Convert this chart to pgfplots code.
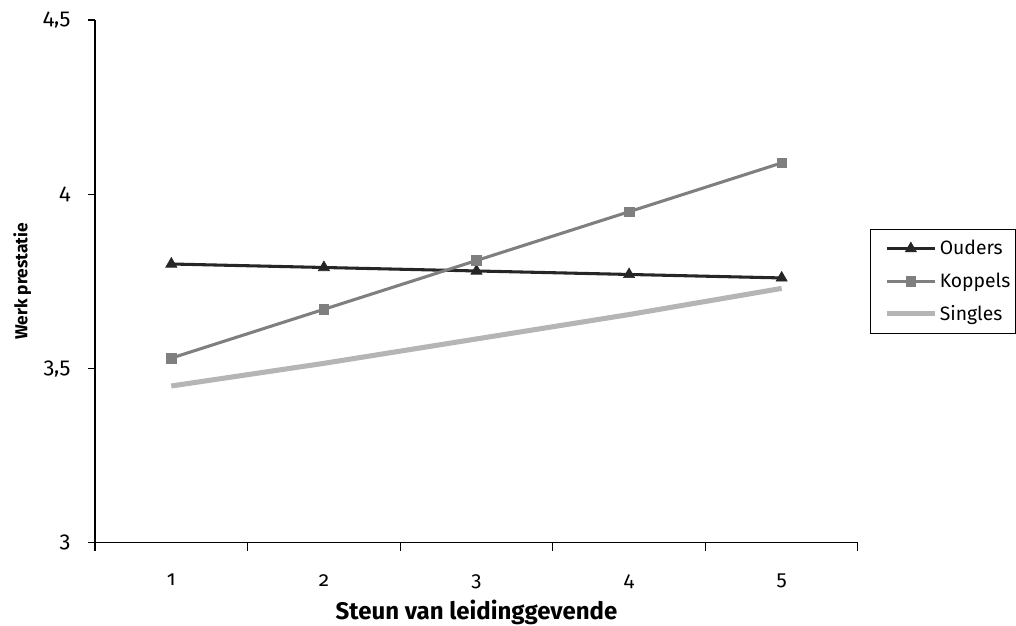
\documentclass[border=0pt]{standalone}
\usepackage{pgfplots}
\pgfplotsset{compat=1.18}
\usepackage{fontspec}
\setmainfont[Numbers=OldStyle]{Fira Sans}
\usetikzlibrary{calc}
\definecolor{cOud}{HTML}{262626}
\definecolor{cKop}{HTML}{7F7F7F}
\definecolor{cSin}{HTML}{B5B5B5}
\begin{document}
\begin{tikzpicture}[font=\fontsize{15.5}{18}\selectfont]
\begin{axis}[
  scale only axis,
  width=572pt, height=392pt,
  xmin=0.5, xmax=5.5,
  ymin=3, ymax=4.5,
  axis x line=bottom, axis y line=left,
  axis line style={-, line width=0.8pt},
  xtick={1,2,3,4,5},
  xticklabels={1,2,3,4,5},
  major x tick style={draw=none},
  minor xtick={0.5,1.5,2.5,3.5,4.5,5.5},
  minor tick length=6pt,
  minor x tick style={line width=0.8pt, black},
  ytick={3,3.5,4,4.5},
  major tick length=5pt,
  tick align=outside,
  y tick style={line width=0.8pt, black},
  /pgf/number format/use comma,
  /pgf/number format/assume math mode=true,
  yticklabel style={xshift=-10pt, font=\fontsize{16.5}{18}\selectfont},
  xticklabel style={yshift=-15pt},
  xlabel={\bfseries\fontsize{18}{20}\selectfont Steun van leidinggevende},
  ylabel={\bfseries\fontsize{13}{15}\selectfont Werk prestatie},
  xlabel style={yshift=-2pt},
  ylabel style={yshift=2pt},
  legend style={at={(1.016,0.5)}, anchor=west, draw=black, line width=0.6pt,
    font=\fontsize{14.5}{17}\selectfont, row sep=8pt, inner xsep=2pt, inner ysep=6pt,
    /tikz/every even column/.append style={column sep=1pt}},
  legend cell align=left,
  legend image code/.code={\path (0cm,0cm); \draw[#1] (0.3cm,0cm) -- (1.55cm,0cm); \draw[#1, mark repeat=2, mark phase=2] plot coordinates {(0.3cm,0cm) (0.925cm,0cm) (1.55cm,0cm)};},
]
\addplot[color=cOud, line width=2.3pt, mark=triangle*, mark size=4.8pt, mark options={line width=0.5pt}]
  coordinates {(1,3.80) (2,3.79) (3,3.78) (4,3.77) (5,3.76)};
\addlegendentry{Ouders}
\addplot[color=cKop, line width=2.3pt, mark=square*, mark size=3.6pt, mark options={line width=0.5pt}]
  coordinates {(1,3.53) (2,3.67) (3,3.81) (4,3.95) (5,4.09)};
\addlegendentry{Koppels}
\addplot[color=cSin, line width=3.8pt, mark=none]
  coordinates {(1,3.45) (2,3.515) (3,3.585) (4,3.655) (5,3.73)};
\addlegendentry{Singles}
\path (rel axis cs:0,0) coordinate (sw);
\path (rel axis cs:1,1) coordinate (ne);
\end{axis}
\pgfresetboundingbox
\path ($(sw)+(-71.25pt,-62.25pt)$) rectangle ($(ne)+(118.5pt,15pt)$);
\end{tikzpicture}
\end{document}
